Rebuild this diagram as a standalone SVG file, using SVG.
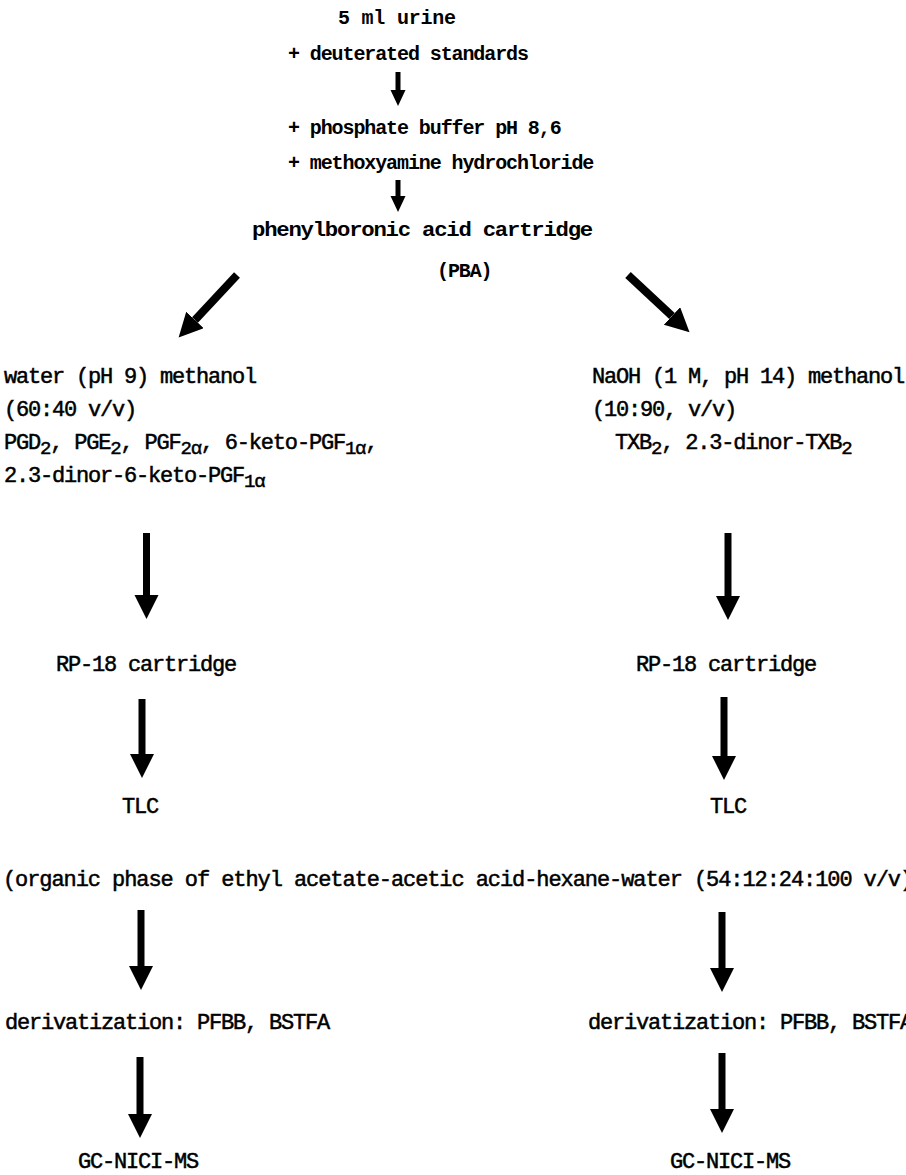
<svg xmlns="http://www.w3.org/2000/svg" width="906" height="1175" viewBox="0 0 906 1175">
<style>
.t{font-family:"Liberation Mono","DejaVu Sans Mono",monospace;font-size:20px;font-weight:bold;letter-spacing:-1.1px;fill:#000}
.b{font-family:"Liberation Mono","DejaVu Sans Mono",monospace;font-size:22px;letter-spacing:-1.2px;fill:#000;stroke:#000;stroke-width:0.5px}
.s{font-size:19px}
.big{stroke:#000;stroke-width:7;fill:none;marker-end:url(#mb)}
.diag{stroke:#000;stroke-width:8;fill:none;marker-end:url(#mb)}
.small{stroke:#000;stroke-width:5;fill:none;marker-end:url(#ms)}
</style>
<defs>
<marker id="mb" markerUnits="userSpaceOnUse" orient="auto" markerWidth="25" markerHeight="25" refX="0" refY="12">
<path d="M0,0 L24,12 L0,24 Z" fill="#000"/>
</marker>
<marker id="ms" markerUnits="userSpaceOnUse" orient="auto" markerWidth="17" markerHeight="16" refX="0" refY="7.5">
<path d="M0,0 L16,7.5 L0,15 Z" fill="#000"/>
</marker>
</defs>
<rect width="906" height="1175" fill="#fff"/>
<g id="connectors">
<line class="small" x1="398" y1="72" x2="398" y2="90"/>
<line class="small" x1="398" y1="180" x2="398" y2="196"/>
<line class="diag" x1="237" y1="275" x2="195" y2="320"/>
<line class="diag" x1="628" y1="275" x2="672" y2="316"/>
<line class="big" x1="146.5" y1="533" x2="146.5" y2="595"/>
<line class="big" x1="728" y1="533" x2="728" y2="596"/>
<line class="big" x1="142" y1="699" x2="142" y2="754"/>
<line class="big" x1="724" y1="697" x2="724" y2="756"/>
<line class="big" x1="141" y1="910" x2="141" y2="966"/>
<line class="big" x1="722" y1="912" x2="722" y2="968"/>
<line class="big" x1="140" y1="1057" x2="140" y2="1114"/>
<line class="big" x1="722" y1="1053" x2="722" y2="1109"/>
</g>
<g id="urine">
<text class="t" x="338" y="24" textLength="117" lengthAdjust="spacing">5 ml urine</text>
<text class="t" x="288" y="60">+ deuterated standards</text>
</g>
<g id="buffer">
<text class="t" x="288" y="134">+ phosphate buffer pH 8,6</text>
<text class="t" x="288" y="169">+ methoxyamine hydrochloride</text>
</g>
<g id="pba">
<text class="t" x="252" y="236" textLength="340" lengthAdjust="spacingAndGlyphs">phenylboronic acid cartridge</text>
<text class="t" x="437" y="277">(PBA)</text>
</g>
<g id="left-eluate">
<text class="b" x="4" y="383">water (pH 9) methanol</text>
<text class="b" x="4" y="416">(60:40 v/v)</text>
<text class="b" x="4" y="449">PGD<tspan class="s" dy="5">2</tspan><tspan dy="-5">, PGE</tspan><tspan class="s" dy="5">2</tspan><tspan dy="-5">, PGF</tspan><tspan class="s" dy="5">2α</tspan><tspan dy="-5">, 6-keto-PGF</tspan><tspan class="s" dy="5">1α</tspan><tspan dy="-5">,</tspan></text>
<text class="b" x="4" y="482">2.3-dinor-6-keto-PGF<tspan class="s" dy="5">1α</tspan></text>
</g>
<g id="right-eluate">
<text class="b" x="592" y="383">NaOH (1 M, pH 14) methanol</text>
<text class="b" x="592" y="416">(10:90, v/v)</text>
<text class="b" x="615" y="449">TXB<tspan class="s" dy="5">2</tspan><tspan dy="-5">, 2.3-dinor-TXB</tspan><tspan class="s" dy="5">2</tspan></text>
</g>
<g id="rp18-left"><text class="b" x="56" y="671">RP-18 cartridge</text></g>
<g id="rp18-right"><text class="b" x="636" y="671">RP-18 cartridge</text></g>
<g id="tlc-left"><text class="b" x="122" y="813">TLC</text></g>
<g id="tlc-right"><text class="b" x="710" y="813">TLC</text></g>
<g id="tlc-solvent"><text class="b" x="3" y="886" textLength="909" lengthAdjust="spacing">(organic phase of ethyl acetate-acetic acid-hexane-water (54:12:24:100 v/v)</text></g>
<g id="deriv-left"><text class="b" x="5" y="1029">derivatization: PFBB, BSTFA</text></g>
<g id="deriv-right"><text class="b" x="588" y="1029">derivatization: PFBB, BSTFA</text></g>
<g id="gc-left"><text class="b" x="78" y="1168">GC-NICI-MS</text></g>
<g id="gc-right"><text class="b" x="670" y="1168">GC-NICI-MS</text></g>
</svg>
